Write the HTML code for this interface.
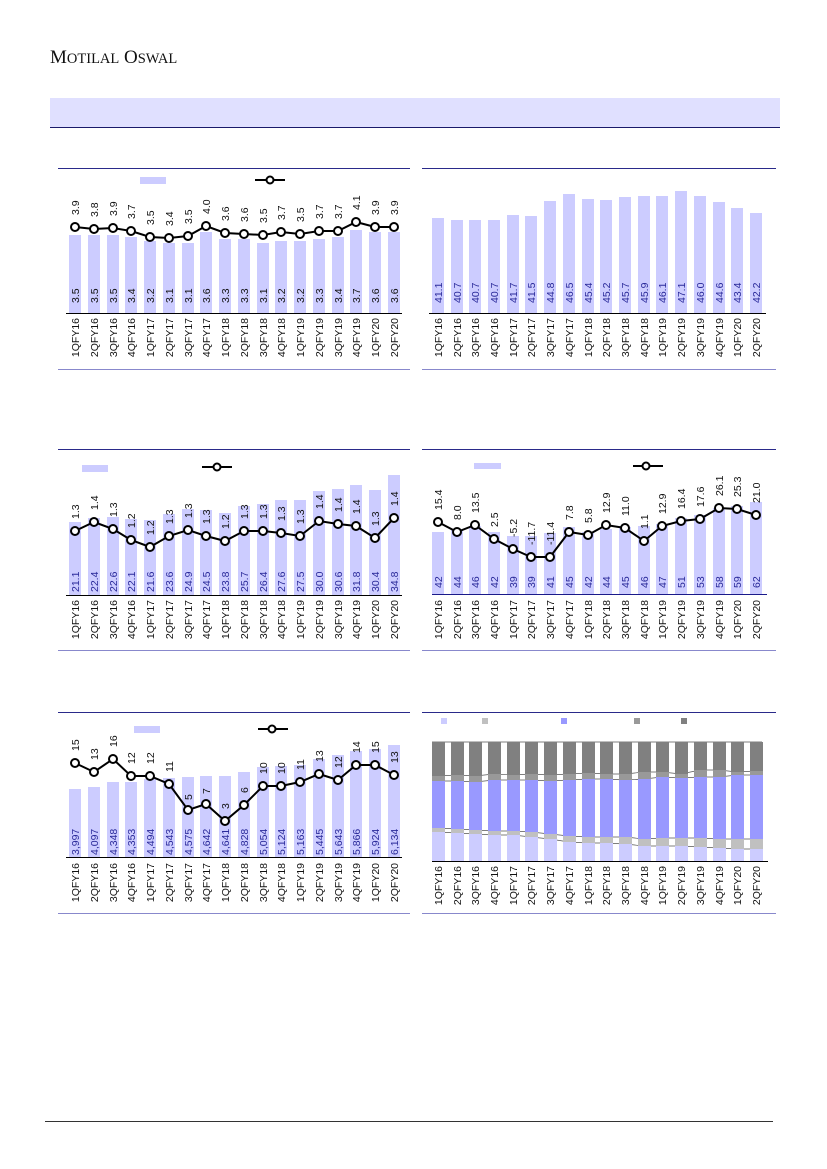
<!DOCTYPE html>
<html><head><meta charset="utf-8"><style>
html,body{margin:0;padding:0;background:#fff;}
svg{display:block;font-family:"Liberation Sans",sans-serif;}
.ax{font-size:10.5px;fill:#111;}
.lv{font-size:10.5px;fill:#111;}
.bv{font-size:10.5px;fill:#2a2a9a;}
</style></head><body>
<svg width="827" height="1169" viewBox="0 0 827 1169" xmlns="http://www.w3.org/2000/svg">
<text x="50" y="63" font-family="Liberation Serif,serif" font-size="19" fill="#111">M<tspan font-size="14.5">OTILAL</tspan> O<tspan font-size="14.5">SWAL</tspan></text>
<rect x="50" y="98" width="730" height="29" fill="#e0e0ff"/>
<line x1="50" y1="127.5" x2="780" y2="127.5" stroke="#1a1a6a" stroke-width="1"/>
<line x1="45" y1="1121.5" x2="773" y2="1121.5" stroke="#333" stroke-width="1"/>

<!-- panel frames -->
<g stroke-width="1">
<line x1="58" y1="168.5" x2="410" y2="168.5" stroke="#2a2a8a"/><line x1="58" y1="369.5" x2="410" y2="369.5" stroke="#8888cc"/>
<line x1="422" y1="168.5" x2="776" y2="168.5" stroke="#2a2a8a"/><line x1="422" y1="369.5" x2="776" y2="369.5" stroke="#8888cc"/>
<line x1="58" y1="449.5" x2="410" y2="449.5" stroke="#2a2a8a"/><line x1="58" y1="650.5" x2="410" y2="650.5" stroke="#8888cc"/>
<line x1="422" y1="449.5" x2="776" y2="449.5" stroke="#2a2a8a"/><line x1="422" y1="650.5" x2="776" y2="650.5" stroke="#8888cc"/>
<line x1="58" y1="712.5" x2="410" y2="712.5" stroke="#2a2a8a"/><line x1="58" y1="913.5" x2="410" y2="913.5" stroke="#8888cc"/>
<line x1="422" y1="712.5" x2="776" y2="712.5" stroke="#2a2a8a"/><line x1="422" y1="913.5" x2="776" y2="913.5" stroke="#8888cc"/>
</g>

<!-- ===== Panel 1 ===== -->
<rect x="140" y="177" width="26" height="7" fill="#ccccff"/>
<line x1="255" y1="180" x2="285" y2="180" stroke="#000" stroke-width="2"/><circle cx="270" cy="180" r="3.5" fill="#fff" stroke="#000" stroke-width="2"/>
<g fill="#ccccff">
<rect x="69" y="235" width="12" height="78"/><rect x="88" y="235" width="12" height="78"/><rect x="107" y="235" width="12" height="78"/><rect x="125" y="237" width="12" height="76"/><rect x="144" y="241" width="12" height="72"/><rect x="163" y="243" width="12" height="70"/><rect x="182" y="243" width="12" height="70"/><rect x="200" y="232" width="12" height="81"/><rect x="219" y="239" width="12" height="74"/><rect x="238" y="239" width="12" height="74"/><rect x="257" y="243" width="12" height="70"/><rect x="275" y="241" width="12" height="72"/><rect x="294" y="241" width="12" height="72"/><rect x="313" y="239" width="12" height="74"/><rect x="332" y="237" width="12" height="76"/><rect x="350" y="230" width="12" height="83"/><rect x="369" y="232" width="12" height="81"/><rect x="388" y="232" width="12" height="81"/>
</g>
<line x1="66" y1="313.5" x2="402" y2="313.5" stroke="#000"/>
<polyline fill="none" stroke="#000" stroke-width="2" points="75,227 94,229 113,228 131,231 150,237 169,238 188,236 206,226 225,233 244,234 263,235 281,232 300,234 319,231 338,231 356,222 375,227 394,227"/>
<g fill="#fff" stroke="#000" stroke-width="2"><circle cx="75" cy="227" r="4"/><circle cx="94" cy="229" r="4"/><circle cx="113" cy="228" r="4"/><circle cx="131" cy="231" r="4"/><circle cx="150" cy="237" r="4"/><circle cx="169" cy="238" r="4"/><circle cx="188" cy="236" r="4"/><circle cx="206" cy="226" r="4"/><circle cx="225" cy="233" r="4"/><circle cx="244" cy="234" r="4"/><circle cx="263" cy="235" r="4"/><circle cx="281" cy="232" r="4"/><circle cx="300" cy="234" r="4"/><circle cx="319" cy="231" r="4"/><circle cx="338" cy="231" r="4"/><circle cx="356" cy="222" r="4"/><circle cx="375" cy="227" r="4"/><circle cx="394" cy="227" r="4"/></g>
<g class="lv">
<text transform="translate(79,215) rotate(-90)">3.9</text><text transform="translate(98,217) rotate(-90)">3.8</text><text transform="translate(117,216) rotate(-90)">3.9</text><text transform="translate(135,219) rotate(-90)">3.7</text><text transform="translate(154,225) rotate(-90)">3.5</text><text transform="translate(173,226) rotate(-90)">3.4</text><text transform="translate(192,224) rotate(-90)">3.5</text><text transform="translate(210,214) rotate(-90)">4.0</text><text transform="translate(229,221) rotate(-90)">3.6</text><text transform="translate(248,222) rotate(-90)">3.6</text><text transform="translate(267,223) rotate(-90)">3.5</text><text transform="translate(285,220) rotate(-90)">3.7</text><text transform="translate(304,222) rotate(-90)">3.5</text><text transform="translate(323,219) rotate(-90)">3.7</text><text transform="translate(342,219) rotate(-90)">3.7</text><text transform="translate(360,210) rotate(-90)">4.1</text><text transform="translate(379,215) rotate(-90)">3.9</text><text transform="translate(398,215) rotate(-90)">3.9</text>
</g>
<g class="lv">
<text transform="translate(79,303) rotate(-90)">3.5</text><text transform="translate(98,303) rotate(-90)">3.5</text><text transform="translate(117,303) rotate(-90)">3.5</text><text transform="translate(135,303) rotate(-90)">3.4</text><text transform="translate(154,303) rotate(-90)">3.2</text><text transform="translate(173,303) rotate(-90)">3.1</text><text transform="translate(192,303) rotate(-90)">3.1</text><text transform="translate(210,303) rotate(-90)">3.6</text><text transform="translate(229,303) rotate(-90)">3.3</text><text transform="translate(248,303) rotate(-90)">3.3</text><text transform="translate(267,303) rotate(-90)">3.1</text><text transform="translate(285,303) rotate(-90)">3.2</text><text transform="translate(304,303) rotate(-90)">3.2</text><text transform="translate(323,303) rotate(-90)">3.3</text><text transform="translate(342,303) rotate(-90)">3.4</text><text transform="translate(360,303) rotate(-90)">3.7</text><text transform="translate(379,303) rotate(-90)">3.6</text><text transform="translate(398,303) rotate(-90)">3.6</text>
</g>
<g class="ax" text-anchor="end">
<text transform="translate(79,318) rotate(-90)">1QFY16</text><text transform="translate(98,318) rotate(-90)">2QFY16</text><text transform="translate(117,318) rotate(-90)">3QFY16</text><text transform="translate(135,318) rotate(-90)">4QFY16</text><text transform="translate(154,318) rotate(-90)">1QFY17</text><text transform="translate(173,318) rotate(-90)">2QFY17</text><text transform="translate(192,318) rotate(-90)">3QFY17</text><text transform="translate(210,318) rotate(-90)">4QFY17</text><text transform="translate(229,318) rotate(-90)">1QFY18</text><text transform="translate(248,318) rotate(-90)">2QFY18</text><text transform="translate(267,318) rotate(-90)">3QFY18</text><text transform="translate(285,318) rotate(-90)">4QFY18</text><text transform="translate(304,318) rotate(-90)">1QFY19</text><text transform="translate(323,318) rotate(-90)">2QFY19</text><text transform="translate(342,318) rotate(-90)">3QFY19</text><text transform="translate(360,318) rotate(-90)">4QFY19</text><text transform="translate(379,318) rotate(-90)">1QFY20</text><text transform="translate(398,318) rotate(-90)">2QFY20</text>
</g>

<!-- ===== Panel 2 ===== -->
<g fill="#ccccff">
<rect x="432" y="218" width="12" height="95"/><rect x="451" y="220" width="12" height="93"/><rect x="469" y="220" width="12" height="93"/><rect x="488" y="220" width="12" height="93"/><rect x="507" y="215" width="12" height="98"/><rect x="525" y="216" width="12" height="97"/><rect x="544" y="201" width="12" height="112"/><rect x="563" y="194" width="12" height="119"/><rect x="582" y="199" width="12" height="114"/><rect x="600" y="200" width="12" height="113"/><rect x="619" y="197" width="12" height="116"/><rect x="638" y="196" width="12" height="117"/><rect x="656" y="196" width="12" height="117"/><rect x="675" y="191" width="12" height="122"/><rect x="694" y="196" width="12" height="117"/><rect x="713" y="202" width="12" height="111"/><rect x="731" y="208" width="12" height="105"/><rect x="750" y="213" width="12" height="100"/>
</g>
<line x1="429" y1="313.5" x2="766" y2="313.5" stroke="#000"/>
<g class="bv">
<text transform="translate(442,303) rotate(-90)">41.1</text><text transform="translate(461,303) rotate(-90)">40.7</text><text transform="translate(479,303) rotate(-90)">40.7</text><text transform="translate(498,303) rotate(-90)">40.7</text><text transform="translate(517,303) rotate(-90)">41.7</text><text transform="translate(535,303) rotate(-90)">41.5</text><text transform="translate(554,303) rotate(-90)">44.8</text><text transform="translate(573,303) rotate(-90)">46.5</text><text transform="translate(592,303) rotate(-90)">45.4</text><text transform="translate(610,303) rotate(-90)">45.2</text><text transform="translate(629,303) rotate(-90)">45.7</text><text transform="translate(648,303) rotate(-90)">45.9</text><text transform="translate(666,303) rotate(-90)">46.1</text><text transform="translate(685,303) rotate(-90)">47.1</text><text transform="translate(704,303) rotate(-90)">46.0</text><text transform="translate(723,303) rotate(-90)">44.6</text><text transform="translate(741,303) rotate(-90)">43.4</text><text transform="translate(760,303) rotate(-90)">42.2</text>
</g>
<g class="ax" text-anchor="end">
<text transform="translate(442,318) rotate(-90)">1QFY16</text><text transform="translate(461,318) rotate(-90)">2QFY16</text><text transform="translate(479,318) rotate(-90)">3QFY16</text><text transform="translate(498,318) rotate(-90)">4QFY16</text><text transform="translate(517,318) rotate(-90)">1QFY17</text><text transform="translate(535,318) rotate(-90)">2QFY17</text><text transform="translate(554,318) rotate(-90)">3QFY17</text><text transform="translate(573,318) rotate(-90)">4QFY17</text><text transform="translate(592,318) rotate(-90)">1QFY18</text><text transform="translate(610,318) rotate(-90)">2QFY18</text><text transform="translate(629,318) rotate(-90)">3QFY18</text><text transform="translate(648,318) rotate(-90)">4QFY18</text><text transform="translate(666,318) rotate(-90)">1QFY19</text><text transform="translate(685,318) rotate(-90)">2QFY19</text><text transform="translate(704,318) rotate(-90)">3QFY19</text><text transform="translate(723,318) rotate(-90)">4QFY19</text><text transform="translate(741,318) rotate(-90)">1QFY20</text><text transform="translate(760,318) rotate(-90)">2QFY20</text>
</g>

<!-- ===== Panel 3 ===== -->
<rect x="82" y="465" width="26" height="7" fill="#ccccff"/>
<line x1="202" y1="467" x2="232" y2="467" stroke="#000" stroke-width="2"/><circle cx="217" cy="467" r="3.5" fill="#fff" stroke="#000" stroke-width="2"/>
<g fill="#ccccff">
<rect x="69" y="522" width="12" height="73"/><rect x="88" y="518" width="12" height="77"/><rect x="107" y="517" width="12" height="78"/><rect x="125" y="519" width="12" height="76"/><rect x="144" y="520" width="12" height="75"/><rect x="163" y="514" width="12" height="81"/><rect x="182" y="509" width="12" height="86"/><rect x="200" y="510" width="12" height="85"/><rect x="219" y="513" width="12" height="82"/><rect x="238" y="506" width="12" height="89"/><rect x="257" y="504" width="12" height="91"/><rect x="275" y="500" width="12" height="95"/><rect x="294" y="500" width="12" height="95"/><rect x="313" y="491" width="12" height="104"/><rect x="332" y="489" width="12" height="106"/><rect x="350" y="485" width="12" height="110"/><rect x="369" y="490" width="12" height="105"/><rect x="388" y="475" width="12" height="120"/>
</g>
<line x1="66" y1="595.5" x2="402" y2="595.5" stroke="#000"/>
<polyline fill="none" stroke="#000" stroke-width="2" points="75,531 94,522 113,529 131,540 150,547 169,536 188,530 206,536 225,541 244,531 263,531 281,533 300,536 319,521 338,524 356,526 375,538 394,518"/>
<g fill="#fff" stroke="#000" stroke-width="2"><circle cx="75" cy="531" r="4"/><circle cx="94" cy="522" r="4"/><circle cx="113" cy="529" r="4"/><circle cx="131" cy="540" r="4"/><circle cx="150" cy="547" r="4"/><circle cx="169" cy="536" r="4"/><circle cx="188" cy="530" r="4"/><circle cx="206" cy="536" r="4"/><circle cx="225" cy="541" r="4"/><circle cx="244" cy="531" r="4"/><circle cx="263" cy="531" r="4"/><circle cx="281" cy="533" r="4"/><circle cx="300" cy="536" r="4"/><circle cx="319" cy="521" r="4"/><circle cx="338" cy="524" r="4"/><circle cx="356" cy="526" r="4"/><circle cx="375" cy="538" r="4"/><circle cx="394" cy="518" r="4"/></g>
<g class="lv">
<text transform="translate(79,519) rotate(-90)">1.3</text><text transform="translate(98,510) rotate(-90)">1.4</text><text transform="translate(117,517) rotate(-90)">1.3</text><text transform="translate(135,528) rotate(-90)">1.2</text><text transform="translate(154,535) rotate(-90)">1.2</text><text transform="translate(173,524) rotate(-90)">1.3</text><text transform="translate(192,518) rotate(-90)">1.3</text><text transform="translate(210,524) rotate(-90)">1.3</text><text transform="translate(229,529) rotate(-90)">1.2</text><text transform="translate(248,519) rotate(-90)">1.3</text><text transform="translate(267,519) rotate(-90)">1.3</text><text transform="translate(285,521) rotate(-90)">1.3</text><text transform="translate(304,524) rotate(-90)">1.3</text><text transform="translate(323,509) rotate(-90)">1.4</text><text transform="translate(342,512) rotate(-90)">1.4</text><text transform="translate(360,514) rotate(-90)">1.4</text><text transform="translate(379,526) rotate(-90)">1.3</text><text transform="translate(398,506) rotate(-90)">1.4</text>
</g>
<g class="bv">
<text transform="translate(79,592) rotate(-90)">21.1</text><text transform="translate(98,592) rotate(-90)">22.4</text><text transform="translate(117,592) rotate(-90)">22.6</text><text transform="translate(135,592) rotate(-90)">22.1</text><text transform="translate(154,592) rotate(-90)">21.6</text><text transform="translate(173,592) rotate(-90)">23.6</text><text transform="translate(192,592) rotate(-90)">24.9</text><text transform="translate(210,592) rotate(-90)">24.5</text><text transform="translate(229,592) rotate(-90)">23.8</text><text transform="translate(248,592) rotate(-90)">25.7</text><text transform="translate(267,592) rotate(-90)">26.4</text><text transform="translate(285,592) rotate(-90)">27.6</text><text transform="translate(304,592) rotate(-90)">27.5</text><text transform="translate(323,592) rotate(-90)">30.0</text><text transform="translate(342,592) rotate(-90)">30.6</text><text transform="translate(360,592) rotate(-90)">31.8</text><text transform="translate(379,592) rotate(-90)">30.4</text><text transform="translate(398,592) rotate(-90)">34.8</text>
</g>
<g class="ax" text-anchor="end">
<text transform="translate(79,600) rotate(-90)">1QFY16</text><text transform="translate(98,600) rotate(-90)">2QFY16</text><text transform="translate(117,600) rotate(-90)">3QFY16</text><text transform="translate(135,600) rotate(-90)">4QFY16</text><text transform="translate(154,600) rotate(-90)">1QFY17</text><text transform="translate(173,600) rotate(-90)">2QFY17</text><text transform="translate(192,600) rotate(-90)">3QFY17</text><text transform="translate(210,600) rotate(-90)">4QFY17</text><text transform="translate(229,600) rotate(-90)">1QFY18</text><text transform="translate(248,600) rotate(-90)">2QFY18</text><text transform="translate(267,600) rotate(-90)">3QFY18</text><text transform="translate(285,600) rotate(-90)">4QFY18</text><text transform="translate(304,600) rotate(-90)">1QFY19</text><text transform="translate(323,600) rotate(-90)">2QFY19</text><text transform="translate(342,600) rotate(-90)">3QFY19</text><text transform="translate(360,600) rotate(-90)">4QFY19</text><text transform="translate(379,600) rotate(-90)">1QFY20</text><text transform="translate(398,600) rotate(-90)">2QFY20</text>
</g>

<!-- ===== Panel 4 ===== -->
<rect x="474" y="463" width="27" height="6" fill="#ccccff"/>
<line x1="633" y1="466" x2="663" y2="466" stroke="#000" stroke-width="2"/><circle cx="646" cy="466" r="3.5" fill="#fff" stroke="#000" stroke-width="2"/>
<g fill="#ccccff">
<rect x="432" y="532" width="12" height="63"/><rect x="451" y="529" width="12" height="66"/><rect x="469" y="526" width="12" height="69"/><rect x="488" y="532" width="12" height="63"/><rect x="507" y="536" width="12" height="59"/><rect x="525" y="536" width="12" height="59"/><rect x="544" y="533" width="12" height="62"/><rect x="563" y="527" width="12" height="68"/><rect x="582" y="532" width="12" height="63"/><rect x="600" y="529" width="12" height="66"/><rect x="619" y="527" width="12" height="68"/><rect x="638" y="526" width="12" height="69"/><rect x="656" y="524" width="12" height="71"/><rect x="675" y="518" width="12" height="77"/><rect x="694" y="515" width="12" height="80"/><rect x="713" y="508" width="12" height="87"/><rect x="731" y="506" width="12" height="89"/><rect x="750" y="502" width="12" height="93"/>
</g>
<line x1="432" y1="594.5" x2="767" y2="594.5" stroke="#1a1a8a"/>
<polyline fill="none" stroke="#000" stroke-width="2" points="438,522 457,532 475,525 494,539 513,549 531,557 550,557 569,532 588,535 606,525 625,528 644,541 662,526 681,521 700,519 719,508 737,509 756,515"/>
<g fill="#fff" stroke="#000" stroke-width="2"><circle cx="438" cy="522" r="4"/><circle cx="457" cy="532" r="4"/><circle cx="475" cy="525" r="4"/><circle cx="494" cy="539" r="4"/><circle cx="513" cy="549" r="4"/><circle cx="531" cy="557" r="4"/><circle cx="550" cy="557" r="4"/><circle cx="569" cy="532" r="4"/><circle cx="588" cy="535" r="4"/><circle cx="606" cy="525" r="4"/><circle cx="625" cy="528" r="4"/><circle cx="644" cy="541" r="4"/><circle cx="662" cy="526" r="4"/><circle cx="681" cy="521" r="4"/><circle cx="700" cy="519" r="4"/><circle cx="719" cy="508" r="4"/><circle cx="737" cy="509" r="4"/><circle cx="756" cy="515" r="4"/></g>
<g class="lv">
<text transform="translate(442,510) rotate(-90)">15.4</text><text transform="translate(461,520) rotate(-90)">8.0</text><text transform="translate(479,513) rotate(-90)">13.5</text><text transform="translate(498,527) rotate(-90)">2.5</text><text transform="translate(517,537) rotate(-90)">-5.2</text><text transform="translate(535,545) rotate(-90)">-11.7</text><text transform="translate(554,545) rotate(-90)">-11.4</text><text transform="translate(573,520) rotate(-90)">7.8</text><text transform="translate(592,523) rotate(-90)">5.8</text><text transform="translate(610,513) rotate(-90)">12.9</text><text transform="translate(629,516) rotate(-90)">11.0</text><text transform="translate(648,529) rotate(-90)">1.1</text><text transform="translate(666,514) rotate(-90)">12.9</text><text transform="translate(685,509) rotate(-90)">16.4</text><text transform="translate(704,507) rotate(-90)">17.6</text><text transform="translate(723,496) rotate(-90)">26.1</text><text transform="translate(741,497) rotate(-90)">25.3</text><text transform="translate(760,503) rotate(-90)">21.0</text>
</g>
<g class="bv">
<text transform="translate(442,588) rotate(-90)">42</text><text transform="translate(461,588) rotate(-90)">44</text><text transform="translate(479,588) rotate(-90)">46</text><text transform="translate(498,588) rotate(-90)">42</text><text transform="translate(517,588) rotate(-90)">39</text><text transform="translate(535,588) rotate(-90)">39</text><text transform="translate(554,588) rotate(-90)">41</text><text transform="translate(573,588) rotate(-90)">45</text><text transform="translate(592,588) rotate(-90)">42</text><text transform="translate(610,588) rotate(-90)">44</text><text transform="translate(629,588) rotate(-90)">45</text><text transform="translate(648,588) rotate(-90)">46</text><text transform="translate(666,588) rotate(-90)">47</text><text transform="translate(685,588) rotate(-90)">51</text><text transform="translate(704,588) rotate(-90)">53</text><text transform="translate(723,588) rotate(-90)">58</text><text transform="translate(741,588) rotate(-90)">59</text><text transform="translate(760,588) rotate(-90)">62</text>
</g>
<g class="ax" text-anchor="end">
<text transform="translate(442,600) rotate(-90)">1QFY16</text><text transform="translate(461,600) rotate(-90)">2QFY16</text><text transform="translate(479,600) rotate(-90)">3QFY16</text><text transform="translate(498,600) rotate(-90)">4QFY16</text><text transform="translate(517,600) rotate(-90)">1QFY17</text><text transform="translate(535,600) rotate(-90)">2QFY17</text><text transform="translate(554,600) rotate(-90)">3QFY17</text><text transform="translate(573,600) rotate(-90)">4QFY17</text><text transform="translate(592,600) rotate(-90)">1QFY18</text><text transform="translate(610,600) rotate(-90)">2QFY18</text><text transform="translate(629,600) rotate(-90)">3QFY18</text><text transform="translate(648,600) rotate(-90)">4QFY18</text><text transform="translate(666,600) rotate(-90)">1QFY19</text><text transform="translate(685,600) rotate(-90)">2QFY19</text><text transform="translate(704,600) rotate(-90)">3QFY19</text><text transform="translate(723,600) rotate(-90)">4QFY19</text><text transform="translate(741,600) rotate(-90)">1QFY20</text><text transform="translate(760,600) rotate(-90)">2QFY20</text>
</g>

<!-- ===== Panel 5 ===== -->
<rect x="134" y="726" width="26" height="7" fill="#ccccff"/>
<line x1="258" y1="729" x2="288" y2="729" stroke="#000" stroke-width="2"/><circle cx="272" cy="729" r="3.5" fill="#fff" stroke="#000" stroke-width="2"/>
<g fill="#ccccff">
<rect x="69" y="789" width="12" height="68"/><rect x="88" y="787" width="12" height="70"/><rect x="107" y="782" width="12" height="75"/><rect x="125" y="782" width="12" height="75"/><rect x="144" y="779" width="12" height="78"/><rect x="163" y="778" width="12" height="79"/><rect x="182" y="777" width="12" height="80"/><rect x="200" y="776" width="12" height="81"/><rect x="219" y="776" width="12" height="81"/><rect x="238" y="772" width="12" height="85"/><rect x="257" y="767" width="12" height="90"/><rect x="275" y="766" width="12" height="91"/><rect x="294" y="765" width="12" height="92"/><rect x="313" y="759" width="12" height="98"/><rect x="332" y="755" width="12" height="102"/><rect x="350" y="751" width="12" height="106"/><rect x="369" y="749" width="12" height="108"/><rect x="388" y="745" width="12" height="112"/>
</g>
<line x1="66" y1="857.5" x2="402" y2="857.5" stroke="#000"/>
<polyline fill="none" stroke="#000" stroke-width="2" points="75,763 94,772 113,759 131,776 150,776 169,784 188,810 206,804 225,821 244,805 263,786 281,786 300,782 319,774 338,780 356,765 375,765 394,775"/>
<g fill="#fff" stroke="#000" stroke-width="2"><circle cx="75" cy="763" r="4"/><circle cx="94" cy="772" r="4"/><circle cx="113" cy="759" r="4"/><circle cx="131" cy="776" r="4"/><circle cx="150" cy="776" r="4"/><circle cx="169" cy="784" r="4"/><circle cx="188" cy="810" r="4"/><circle cx="206" cy="804" r="4"/><circle cx="225" cy="821" r="4"/><circle cx="244" cy="805" r="4"/><circle cx="263" cy="786" r="4"/><circle cx="281" cy="786" r="4"/><circle cx="300" cy="782" r="4"/><circle cx="319" cy="774" r="4"/><circle cx="338" cy="780" r="4"/><circle cx="356" cy="765" r="4"/><circle cx="375" cy="765" r="4"/><circle cx="394" cy="775" r="4"/></g>
<g class="lv">
<text transform="translate(79,751) rotate(-90)">15</text><text transform="translate(98,760) rotate(-90)">13</text><text transform="translate(117,747) rotate(-90)">16</text><text transform="translate(135,764) rotate(-90)">12</text><text transform="translate(154,764) rotate(-90)">12</text><text transform="translate(173,772) rotate(-90)">11</text><text transform="translate(192,800) rotate(-90)">5</text><text transform="translate(210,794) rotate(-90)">7</text><text transform="translate(229,809) rotate(-90)">3</text><text transform="translate(248,793) rotate(-90)">6</text><text transform="translate(267,774) rotate(-90)">10</text><text transform="translate(285,774) rotate(-90)">10</text><text transform="translate(304,770) rotate(-90)">11</text><text transform="translate(323,762) rotate(-90)">13</text><text transform="translate(342,768) rotate(-90)">12</text><text transform="translate(360,753) rotate(-90)">14</text><text transform="translate(379,753) rotate(-90)">15</text><text transform="translate(398,763) rotate(-90)">13</text>
</g>
<g class="bv">
<text transform="translate(79,855) rotate(-90)">3,997</text><text transform="translate(98,855) rotate(-90)">4,097</text><text transform="translate(117,855) rotate(-90)">4,348</text><text transform="translate(135,855) rotate(-90)">4,353</text><text transform="translate(154,855) rotate(-90)">4,494</text><text transform="translate(173,855) rotate(-90)">4,543</text><text transform="translate(192,855) rotate(-90)">4,575</text><text transform="translate(210,855) rotate(-90)">4,642</text><text transform="translate(229,855) rotate(-90)">4,641</text><text transform="translate(248,855) rotate(-90)">4,828</text><text transform="translate(267,855) rotate(-90)">5,054</text><text transform="translate(285,855) rotate(-90)">5,124</text><text transform="translate(304,855) rotate(-90)">5,163</text><text transform="translate(323,855) rotate(-90)">5,445</text><text transform="translate(342,855) rotate(-90)">5,643</text><text transform="translate(360,855) rotate(-90)">5,866</text><text transform="translate(379,855) rotate(-90)">5,924</text><text transform="translate(398,855) rotate(-90)">6,134</text>
</g>
<g class="ax" text-anchor="end">
<text transform="translate(79,863) rotate(-90)">1QFY16</text><text transform="translate(98,863) rotate(-90)">2QFY16</text><text transform="translate(117,863) rotate(-90)">3QFY16</text><text transform="translate(135,863) rotate(-90)">4QFY16</text><text transform="translate(154,863) rotate(-90)">1QFY17</text><text transform="translate(173,863) rotate(-90)">2QFY17</text><text transform="translate(192,863) rotate(-90)">3QFY17</text><text transform="translate(210,863) rotate(-90)">4QFY17</text><text transform="translate(229,863) rotate(-90)">1QFY18</text><text transform="translate(248,863) rotate(-90)">2QFY18</text><text transform="translate(267,863) rotate(-90)">3QFY18</text><text transform="translate(285,863) rotate(-90)">4QFY18</text><text transform="translate(304,863) rotate(-90)">1QFY19</text><text transform="translate(323,863) rotate(-90)">2QFY19</text><text transform="translate(342,863) rotate(-90)">3QFY19</text><text transform="translate(360,863) rotate(-90)">4QFY19</text><text transform="translate(379,863) rotate(-90)">1QFY20</text><text transform="translate(398,863) rotate(-90)">2QFY20</text>
</g>

<!-- ===== Panel 6 (stacked) ===== -->
<rect x="441" y="718" width="6" height="6" fill="#ccccff"/><rect x="482" y="718" width="6" height="6" fill="#c0c0c0"/><rect x="561" y="718" width="6" height="6" fill="#9999ff"/><rect x="634" y="718" width="6" height="6" fill="#999999"/><rect x="681" y="718" width="6" height="6" fill="#808080"/>
<g fill="none" stroke="#555" stroke-width="0.7">
<polyline points="438,832 457,833 475,834 494,835 513,835 531,837 550,839 569,842 588,843 606,843 625,844 644,846 662,846 681,846 700,847 719,848 737,849 756,849"/>
<polyline points="438,828 457,829 475,830 494,831 513,831 531,832 550,834 569,836 588,837 606,837 625,837 644,839 662,838 681,838 700,838 719,839 737,839 756,839"/>
<polyline points="438,781 457,781 475,782 494,780 513,780 531,780 550,781 569,780 588,779 606,779 625,780 644,779 662,777 681,778 700,777 719,777 737,775 756,775"/>
<polyline points="438,776 457,775 475,776 494,774 513,775 531,774 550,775 569,774 588,773 606,774 625,774 644,772 662,772 681,774 700,770 719,770 737,772 756,771"/>
<line x1="432" y1="742" x2="762" y2="742"/>
</g>
<g id="stk"></g>
<g>
<!-- each bar: dark, midgrey, blue, grey, light -->
<rect x="432" y="742" width="13" height="34" fill="#808080"/><rect x="432" y="776" width="13" height="5" fill="#999"/><rect x="432" y="781" width="13" height="47" fill="#9999ff"/><rect x="432" y="828" width="13" height="4" fill="#c0c0c0"/><rect x="432" y="832" width="13" height="29" fill="#ccccff"/>
<rect x="451" y="742" width="13" height="33" fill="#808080"/><rect x="451" y="775" width="13" height="6" fill="#999"/><rect x="451" y="781" width="13" height="48" fill="#9999ff"/><rect x="451" y="829" width="13" height="4" fill="#c0c0c0"/><rect x="451" y="833" width="13" height="28" fill="#ccccff"/>
<rect x="469" y="742" width="13" height="34" fill="#808080"/><rect x="469" y="776" width="13" height="6" fill="#999"/><rect x="469" y="782" width="13" height="48" fill="#9999ff"/><rect x="469" y="830" width="13" height="4" fill="#c0c0c0"/><rect x="469" y="834" width="13" height="27" fill="#ccccff"/>
<rect x="488" y="742" width="13" height="32" fill="#808080"/><rect x="488" y="774" width="13" height="6" fill="#999"/><rect x="488" y="780" width="13" height="51" fill="#9999ff"/><rect x="488" y="831" width="13" height="4" fill="#c0c0c0"/><rect x="488" y="835" width="13" height="26" fill="#ccccff"/>
<rect x="507" y="742" width="13" height="33" fill="#808080"/><rect x="507" y="775" width="13" height="5" fill="#999"/><rect x="507" y="780" width="13" height="51" fill="#9999ff"/><rect x="507" y="831" width="13" height="4" fill="#c0c0c0"/><rect x="507" y="835" width="13" height="26" fill="#ccccff"/>
<rect x="525" y="742" width="13" height="32" fill="#808080"/><rect x="525" y="774" width="13" height="6" fill="#999"/><rect x="525" y="780" width="13" height="52" fill="#9999ff"/><rect x="525" y="832" width="13" height="5" fill="#c0c0c0"/><rect x="525" y="837" width="13" height="24" fill="#ccccff"/>
<rect x="544" y="742" width="13" height="33" fill="#808080"/><rect x="544" y="775" width="13" height="6" fill="#999"/><rect x="544" y="781" width="13" height="53" fill="#9999ff"/><rect x="544" y="834" width="13" height="5" fill="#c0c0c0"/><rect x="544" y="839" width="13" height="22" fill="#ccccff"/>
<rect x="563" y="742" width="13" height="32" fill="#808080"/><rect x="563" y="774" width="13" height="6" fill="#999"/><rect x="563" y="780" width="13" height="56" fill="#9999ff"/><rect x="563" y="836" width="13" height="6" fill="#c0c0c0"/><rect x="563" y="842" width="13" height="19" fill="#ccccff"/>
<rect x="582" y="742" width="13" height="31" fill="#808080"/><rect x="582" y="773" width="13" height="6" fill="#999"/><rect x="582" y="779" width="13" height="58" fill="#9999ff"/><rect x="582" y="837" width="13" height="6" fill="#c0c0c0"/><rect x="582" y="843" width="13" height="18" fill="#ccccff"/>
<rect x="600" y="742" width="13" height="32" fill="#808080"/><rect x="600" y="774" width="13" height="5" fill="#999"/><rect x="600" y="779" width="13" height="58" fill="#9999ff"/><rect x="600" y="837" width="13" height="6" fill="#c0c0c0"/><rect x="600" y="843" width="13" height="18" fill="#ccccff"/>
<rect x="619" y="742" width="13" height="32" fill="#808080"/><rect x="619" y="774" width="13" height="6" fill="#999"/><rect x="619" y="780" width="13" height="57" fill="#9999ff"/><rect x="619" y="837" width="13" height="7" fill="#c0c0c0"/><rect x="619" y="844" width="13" height="17" fill="#ccccff"/>
<rect x="638" y="742" width="13" height="30" fill="#808080"/><rect x="638" y="772" width="13" height="7" fill="#999"/><rect x="638" y="779" width="13" height="60" fill="#9999ff"/><rect x="638" y="839" width="13" height="7" fill="#c0c0c0"/><rect x="638" y="846" width="13" height="15" fill="#ccccff"/>
<rect x="656" y="742" width="13" height="30" fill="#808080"/><rect x="656" y="772" width="13" height="5" fill="#999"/><rect x="656" y="777" width="13" height="61" fill="#9999ff"/><rect x="656" y="838" width="13" height="8" fill="#c0c0c0"/><rect x="656" y="846" width="13" height="15" fill="#ccccff"/>
<rect x="675" y="742" width="13" height="32" fill="#808080"/><rect x="675" y="774" width="13" height="4" fill="#999"/><rect x="675" y="778" width="13" height="60" fill="#9999ff"/><rect x="675" y="838" width="13" height="8" fill="#c0c0c0"/><rect x="675" y="846" width="13" height="15" fill="#ccccff"/>
<rect x="694" y="742" width="13" height="28" fill="#808080"/><rect x="694" y="770" width="13" height="7" fill="#999"/><rect x="694" y="777" width="13" height="61" fill="#9999ff"/><rect x="694" y="838" width="13" height="9" fill="#c0c0c0"/><rect x="694" y="847" width="13" height="14" fill="#ccccff"/>
<rect x="713" y="742" width="13" height="28" fill="#808080"/><rect x="713" y="770" width="13" height="7" fill="#999"/><rect x="713" y="777" width="13" height="62" fill="#9999ff"/><rect x="713" y="839" width="13" height="9" fill="#c0c0c0"/><rect x="713" y="848" width="13" height="13" fill="#ccccff"/>
<rect x="731" y="742" width="13" height="30" fill="#808080"/><rect x="731" y="772" width="13" height="3" fill="#999"/><rect x="731" y="775" width="13" height="64" fill="#9999ff"/><rect x="731" y="839" width="13" height="10" fill="#c0c0c0"/><rect x="731" y="849" width="13" height="12" fill="#ccccff"/>
<rect x="750" y="742" width="13" height="29" fill="#808080"/><rect x="750" y="771" width="13" height="4" fill="#999"/><rect x="750" y="775" width="13" height="64" fill="#9999ff"/><rect x="750" y="839" width="13" height="10" fill="#c0c0c0"/><rect x="750" y="849" width="13" height="12" fill="#ccccff"/>
</g>
<line x1="432" y1="861.5" x2="768" y2="861.5" stroke="#000"/>
<g class="ax" text-anchor="end">
<text transform="translate(442,866) rotate(-90)">1QFY16</text><text transform="translate(461,866) rotate(-90)">2QFY16</text><text transform="translate(479,866) rotate(-90)">3QFY16</text><text transform="translate(498,866) rotate(-90)">4QFY16</text><text transform="translate(517,866) rotate(-90)">1QFY17</text><text transform="translate(535,866) rotate(-90)">2QFY17</text><text transform="translate(554,866) rotate(-90)">3QFY17</text><text transform="translate(573,866) rotate(-90)">4QFY17</text><text transform="translate(592,866) rotate(-90)">1QFY18</text><text transform="translate(610,866) rotate(-90)">2QFY18</text><text transform="translate(629,866) rotate(-90)">3QFY18</text><text transform="translate(648,866) rotate(-90)">4QFY18</text><text transform="translate(666,866) rotate(-90)">1QFY19</text><text transform="translate(685,866) rotate(-90)">2QFY19</text><text transform="translate(704,866) rotate(-90)">3QFY19</text><text transform="translate(723,866) rotate(-90)">4QFY19</text><text transform="translate(741,866) rotate(-90)">1QFY20</text><text transform="translate(760,866) rotate(-90)">2QFY20</text>
</g>
</svg>
</body></html>
